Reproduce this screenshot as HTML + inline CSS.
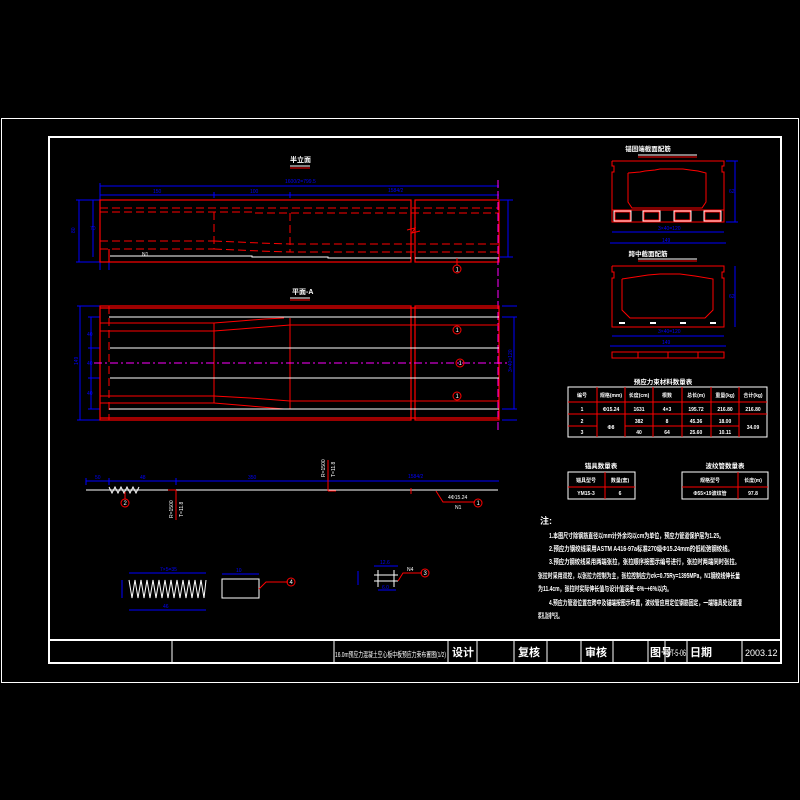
<!DOCTYPE html>
<html><head><meta charset="utf-8"><style>
html,body{margin:0;padding:0;background:#000;}
svg{display:block}
text{font-family:"Liberation Sans","Noto Sans CJK SC",sans-serif;}
</style></head><body>
<svg width="800" height="800" viewBox="0 0 800 800" xmlns="http://www.w3.org/2000/svg">
<rect width="800" height="800" fill="#000"/>
<!-- frames -->
<rect x="1.5" y="118.5" width="797" height="564" fill="none" stroke="#fff" stroke-width="1"/>
<rect x="49" y="137" width="732" height="526" fill="none" stroke="#fff" stroke-width="2"/>
<line x1="49" y1="640" x2="781" y2="640" stroke="#fff" stroke-width="2"/>
<g stroke="#fff" stroke-width="1">
<line x1="172" y1="640" x2="172" y2="663"/><line x1="334" y1="640" x2="334" y2="663"/>
<line x1="448" y1="640" x2="448" y2="663"/><line x1="477" y1="640" x2="477" y2="663"/>
<line x1="514" y1="640" x2="514" y2="663"/><line x1="547" y1="640" x2="547" y2="663"/>
<line x1="581" y1="640" x2="581" y2="663"/><line x1="613" y1="640" x2="613" y2="663"/>
<line x1="648" y1="640" x2="648" y2="663"/><line x1="665" y1="640" x2="665" y2="663"/>
<line x1="687" y1="640" x2="687" y2="663"/><line x1="742" y1="640" x2="742" y2="663"/>
</g>
<g fill="#fff" font-size="10">
<text x="335" y="657" font-size="7.5" textLength="111" lengthAdjust="spacingAndGlyphs">16.0m预应力混凝土空心板中板预应力束布置图(1/2)</text>
<text x="452" y="656" font-size="11" font-weight="bold">设计</text>
<text x="518" y="656" font-size="11" font-weight="bold">复核</text>
<text x="585" y="656" font-size="11" font-weight="bold">审核</text>
<text x="650" y="656" font-size="11" font-weight="bold">图号</text>
<text x="667" y="656" font-size="9" textLength="19" lengthAdjust="spacingAndGlyphs">ST-5-06</text>
<text x="690" y="656" font-size="11" font-weight="bold">日期</text>
<text x="745" y="656" font-size="9">2003.12</text>
</g>

<!-- Elevation -->
<text x="290" y="162" fill="#fff" font-size="7" font-weight="bold">半立面</text>
<line x1="290" y1="166" x2="310" y2="166" stroke="#fff"/><line x1="290" y1="168" x2="310" y2="168" stroke="red"/>
<g stroke="#00f" stroke-width="1" fill="none">
<line x1="100" y1="186" x2="499" y2="186"/><line x1="100" y1="195" x2="499" y2="195"/>
<line x1="100" y1="183" x2="100" y2="200"/><line x1="214" y1="192" x2="214" y2="198"/><line x1="290" y1="192" x2="290" y2="198"/>
<line x1="79" y1="200" x2="79" y2="262"/><line x1="93" y1="200" x2="93" y2="257"/>
<line x1="76" y1="200" x2="100" y2="200"/><line x1="76" y1="262" x2="100" y2="262"/>
<line x1="508" y1="200" x2="508" y2="257"/><line x1="500" y1="200" x2="513" y2="200"/><line x1="500" y1="257" x2="513" y2="257"/>
<line x1="100" y1="262" x2="100" y2="270"/><line x1="109" y1="262" x2="109" y2="270"/>
</g>
<g fill="#00f" font-size="5">
<text x="285" y="183">1600/2=799.5</text><text x="153" y="193">150</text><text x="250" y="193">100</text><text x="388" y="192">1584/2</text>
<text x="75" y="233" transform="rotate(-90 75 233)">80</text><text x="90" y="230">70</text>
</g>
<g stroke="red" stroke-width="1.2" fill="none">
<rect x="100" y="200" width="311" height="62"/><rect x="415" y="200" width="84" height="62"/>
<line x1="109" y1="249" x2="109" y2="262"/>
</g>
<g stroke="red" stroke-width="1" stroke-dasharray="8,4" fill="none">
<line x1="100" y1="208" x2="499" y2="208"/><line x1="100" y1="212" x2="255" y2="212"/><line x1="255" y1="213" x2="499" y2="213"/>
<line x1="100" y1="241" x2="214" y2="241"/><polyline points="214,241 260,243 290,244 499,244"/>
<line x1="100" y1="249" x2="214" y2="249"/><polyline points="214,249 260,251 290,252 499,252"/>
<line x1="214" y1="212" x2="214" y2="249"/><line x1="290" y1="213" x2="290" y2="252"/>
</g>
<polyline points="110,256 252,256 252,257 328,257 328,258 411,258" stroke="#fff" fill="none"/>
<line x1="415" y1="258" x2="499" y2="258" stroke="#fff"/>
<text x="142" y="256" fill="#fff" font-size="5">N1</text>
<path d="M407 230 L415 228 L412 233 L420 231" stroke="red" fill="none"/>
<line x1="498" y1="180" x2="498" y2="430" stroke="#f0f" stroke-dasharray="8,3"/>
<circle cx="457" cy="269" r="4" stroke="red" fill="none"/><text x="455.5" y="271.5" fill="#fff" font-size="6">1</text>
<line x1="457" y1="258" x2="457" y2="265" stroke="red"/>

<!-- Plan -->
<text x="292" y="294" fill="#fff" font-size="7" font-weight="bold">平面-A</text>
<line x1="290" y1="298" x2="310" y2="298" stroke="#fff"/><line x1="290" y1="300" x2="310" y2="300" stroke="red"/>
<g stroke="#00f" fill="none">
<line x1="80" y1="306" x2="80" y2="420"/><line x1="91" y1="317" x2="91" y2="409"/>
<line x1="77" y1="306" x2="100" y2="306"/><line x1="77" y1="420" x2="100" y2="420"/>
<line x1="88" y1="317" x2="100" y2="317"/><line x1="88" y1="348" x2="100" y2="348"/><line x1="88" y1="378" x2="100" y2="378"/><line x1="88" y1="409" x2="100" y2="409"/>
<line x1="514" y1="317" x2="514" y2="409"/><line x1="502" y1="306" x2="517" y2="306"/><line x1="502" y1="317" x2="517" y2="317"/><line x1="502" y1="409" x2="517" y2="409"/><line x1="502" y1="420" x2="517" y2="420"/>
</g>
<g fill="#00f" font-size="5">
<text x="78" y="365" transform="rotate(-90 78 365)">149</text><text x="87" y="336">40</text><text x="87" y="365">40</text><text x="87" y="395">40</text>
<text x="512" y="372" transform="rotate(-90 512 372)">3×40=120</text>
</g>
<g stroke="red" stroke-width="1.2" fill="none">
<rect x="100" y="306" width="311" height="114"/><rect x="415" y="306" width="84" height="114"/>
<line x1="100" y1="308" x2="499" y2="308"/><line x1="100" y1="418" x2="499" y2="418"/>
</g>
<g stroke="red" fill="none">
<line x1="100" y1="323" x2="214" y2="323"/><polyline points="214,323 240,321 265,319 284,318"/>
<line x1="100" y1="331" x2="214" y2="331"/><polyline points="214,331 240,329 265,327 290,325 499,325"/>
<line x1="100" y1="396" x2="214" y2="396"/><polyline points="214,396 250,398 290,401 499,401"/>
<line x1="100" y1="403" x2="214" y2="403"/><polyline points="214,403 250,406 284,409"/>
<line x1="214" y1="323" x2="214" y2="403"/><line x1="290" y1="318" x2="290" y2="409"/>
<line x1="109" y1="306" x2="109" y2="420" stroke-dasharray="8,4"/>
</g>
<g stroke="#fff">
<line x1="109" y1="317" x2="499" y2="317"/><line x1="110" y1="348" x2="499" y2="348"/>
<line x1="110" y1="378" x2="499" y2="378"/><line x1="109" y1="409" x2="499" y2="409"/>
</g>
<line x1="94" y1="363" x2="510" y2="363" stroke="#f0f" stroke-dasharray="8,3,2,3"/>
<g stroke="red" fill="none"><circle cx="457" cy="330" r="4"/><circle cx="460" cy="363" r="4"/><circle cx="457" cy="396" r="4"/></g>
<g fill="#fff" font-size="6"><text x="455.5" y="332">1</text><text x="458.5" y="365">1</text><text x="455.5" y="398">1</text></g>

<!-- Bar layout -->
<g stroke="#00f" fill="none"><line x1="86" y1="481" x2="499" y2="481"/>
<line x1="86" y1="478" x2="86" y2="485"/><line x1="109" y1="478" x2="109" y2="485"/><line x1="176" y1="478" x2="176" y2="485"/></g>
<g fill="#00f" font-size="5"><text x="95" y="479">50</text><text x="140" y="479">48</text><text x="248" y="479">350</text><text x="408" y="478">1584/2</text></g>
<line x1="86" y1="490" x2="498" y2="490" stroke="#fff"/>
<path d="M109 487 L112 493 L115 487 L118 493 L121 487 L124 493 L127 487 L130 493 L133 487 L136 493 L139 487" stroke="#fff" fill="none"/>
<line x1="125" y1="492" x2="125" y2="499" stroke="red"/><circle cx="125" cy="503" r="4" stroke="red" fill="none"/><text x="123.5" y="505" fill="#fff" font-size="6">2</text>
<line x1="176" y1="490" x2="176" y2="520" stroke="red"/><line x1="168" y1="490" x2="176" y2="490" stroke="red"/>
<line x1="328" y1="460" x2="328" y2="491" stroke="red"/><line x1="328" y1="491" x2="336" y2="491" stroke="red"/>
<g fill="#fff" font-size="5"><text x="173" y="518" transform="rotate(-90 173 518)">R=1500</text><text x="183" y="517" transform="rotate(-90 183 517)">T=11.8</text>
<text x="325" y="477" transform="rotate(-90 325 477)">R=1500</text><text x="335" y="477" transform="rotate(-90 335 477)">T=11.8</text>
<text x="448" y="499">4Φ15.24</text><text x="455" y="509">N1</text></g>
<polyline points="436,491 443,502 475,502" stroke="red" fill="none"/>
<circle cx="478" cy="503" r="4" stroke="red" fill="none"/><text x="476.5" y="505" fill="#fff" font-size="6">1</text>
<line x1="411" y1="488" x2="411" y2="494" stroke="red"/>

<!-- details -->
<path d="M129 580 L132 598 L135 580 L138 598 L141 580 L144 598 L147 580 L150 598 L153 580 L156 598 L159 580 L162 598 L165 580 L168 598 L171 580 L174 598 L177 580 L180 598 L183 580 L186 598 L189 580 L192 598 L195 580 L198 598 L201 580 L204 598 L206 580" stroke="#fff" fill="none"/>
<g stroke="#00f" fill="none"><line x1="129" y1="573" x2="206" y2="573"/><line x1="129" y1="610" x2="206" y2="610"/><line x1="122" y1="580" x2="122" y2="598"/><line x1="222" y1="574" x2="259" y2="574"/>
<line x1="358" y1="571" x2="358" y2="585"/><line x1="374" y1="566" x2="398" y2="566"/><line x1="378" y1="590" x2="396" y2="590"/></g>
<g fill="#00f" font-size="5"><text x="160" y="571">7×5=35</text><text x="163" y="608">46</text><text x="236" y="572">10</text><text x="380" y="564">12.6</text><text x="382" y="589">6.0</text></g>
<rect x="222" y="579" width="37" height="19" stroke="#fff" fill="none"/>
<polyline points="259,589 266,582 288,582" stroke="red" fill="none"/><circle cx="291" cy="582" r="4" stroke="red" fill="none"/><text x="289.5" y="584" fill="#fff" font-size="6">4</text>
<g stroke="#fff"><line x1="374" y1="575" x2="398" y2="575"/><line x1="374" y1="581" x2="398" y2="581"/><line x1="378" y1="570" x2="378" y2="587"/><line x1="394" y1="570" x2="394" y2="587"/></g>
<polyline points="398,581 403,573 422,573" stroke="red" fill="none"/><circle cx="425" cy="573" r="4" stroke="red" fill="none"/><text x="423.5" y="575" fill="#fff" font-size="6">3</text>
<text x="407" y="571" fill="#fff" font-size="5">N4</text>

<!-- Right sections -->
<text x="648" y="151" fill="#fff" font-size="6.5" font-weight="bold" text-anchor="middle">锚固端截面配筋</text>
<line x1="638" y1="155" x2="697" y2="155" stroke="#fff"/><line x1="638" y1="157" x2="697" y2="157" stroke="red"/>
<g stroke="red" fill="none" stroke-width="1">
<polyline points="612,161 724,161 724,166 722,166 722,172 724,172 724,222 612,222 612,172 614,172 614,166 612,166 612,161"/>
<polyline points="628,173 640,172 645,171 655,170 660,169 683,169 690,170 698,171 706,173 706,202 702,208 632,208 628,202 628,173"/>
<line x1="612" y1="210" x2="724" y2="210"/>
<rect x="615" y="212" width="15" height="8"/><rect x="644" y="212" width="15" height="8"/><rect x="675" y="212" width="15" height="8"/><rect x="705" y="212" width="15" height="8"/>
</g>
<g stroke="#fff" fill="none"><rect x="614" y="211" width="17" height="10"/><rect x="643" y="211" width="17" height="10"/><rect x="674" y="211" width="17" height="10"/><rect x="704" y="211" width="17" height="10"/></g>
<g stroke="#00f" fill="none"><line x1="612" y1="232" x2="724" y2="232"/><line x1="610" y1="243" x2="726" y2="243"/><line x1="735" y1="161" x2="735" y2="222"/><line x1="726" y1="161" x2="738" y2="161"/><line x1="726" y1="222" x2="738" y2="222"/>
<line x1="735" y1="266" x2="735" y2="327"/><line x1="612" y1="336" x2="724" y2="336"/><line x1="610" y1="346" x2="726" y2="346"/></g>
<g fill="#00f" font-size="5"><text x="658" y="230">3×40=120</text><text x="662" y="242">149</text><text x="658" y="333">3×40=120</text><text x="662" y="344">149</text><text x="729" y="193">62</text><text x="729" y="298">62</text></g>
<text x="648" y="256" fill="#fff" font-size="6.5" font-weight="bold" text-anchor="middle">跨中截面配筋</text>
<line x1="638" y1="259" x2="697" y2="259" stroke="#fff"/><line x1="638" y1="261" x2="697" y2="261" stroke="red"/>
<g stroke="red" fill="none">
<polyline points="612,266 724,266 724,272 722,272 722,278 724,278 724,327 612,327 612,278 614,278 614,272 612,272 612,266"/>
<polyline points="622,279 635,277 648,275 660,274 680,274 695,276 713,279 713,310 705,318 630,318 622,310 622,279"/>
<rect x="612" y="352" width="112" height="6"/><line x1="638" y1="352" x2="638" y2="358"/><line x1="668" y1="352" x2="668" y2="358"/><line x1="698" y1="352" x2="698" y2="358"/>
</g>
<g fill="#fff"><rect x="619" y="322" width="6" height="2"/><rect x="650" y="322" width="6" height="2"/><rect x="680" y="322" width="6" height="2"/><rect x="710" y="322" width="6" height="2"/></g>

<!-- main table -->
<text x="663" y="384" fill="#fff" font-size="6.5" font-weight="bold" text-anchor="middle">预应力束材料数量表</text>
<g stroke="#fff" fill="none"><rect x="568" y="387" width="199" height="50"/></g>
<g stroke="red"><line x1="568" y1="402" x2="767" y2="402"/><line x1="568" y1="414" x2="767" y2="414"/><line x1="568" y1="426" x2="597" y2="426"/><line x1="625" y1="426" x2="739" y2="426"/>
<line x1="597" y1="387" x2="597" y2="437"/><line x1="625" y1="387" x2="625" y2="437"/><line x1="653" y1="387" x2="653" y2="437"/><line x1="682" y1="387" x2="682" y2="437"/><line x1="711" y1="387" x2="711" y2="437"/><line x1="739" y1="387" x2="739" y2="437"/></g>
<g fill="#fff" font-size="5" text-anchor="middle" font-weight="bold">
<text x="582" y="397">编号</text><text x="611" y="397">规格(mm)</text><text x="639" y="397">长度(cm)</text><text x="667" y="397">根数</text><text x="696" y="397">总长(m)</text><text x="725" y="397">重量(kg)</text><text x="753" y="397">合计(kg)</text>
<text x="582" y="411">1</text><text x="611" y="411">Φ15.24</text><text x="639" y="411">1631</text><text x="667" y="411">4×3</text><text x="696" y="411">195.72</text><text x="725" y="411">216.80</text><text x="753" y="411">216.80</text>
<text x="582" y="423">2</text><text x="611" y="429">Φ8</text><text x="639" y="423">382</text><text x="667" y="423">8</text><text x="696" y="423">45.36</text><text x="725" y="423">18.00</text><text x="753" y="429">34.09</text>
<text x="582" y="434">3</text><text x="639" y="434">40</text><text x="667" y="434">64</text><text x="696" y="434">25.60</text><text x="725" y="434">10.11</text>
</g>
<!-- small tables -->
<text x="601" y="468" fill="#fff" font-size="6.5" font-weight="bold" text-anchor="middle">锚具数量表</text>
<rect x="568" y="472" width="67" height="27" stroke="#fff" fill="none"/><line x1="568" y1="487" x2="635" y2="487" stroke="red"/><line x1="605" y1="472" x2="605" y2="499" stroke="red"/>
<text x="725" y="468" fill="#fff" font-size="6.5" font-weight="bold" text-anchor="middle">波纹管数量表</text>
<rect x="682" y="472" width="86" height="27" stroke="#fff" fill="none"/><line x1="682" y1="487" x2="768" y2="487" stroke="red"/><line x1="738" y1="472" x2="738" y2="499" stroke="red"/>
<g fill="#fff" font-size="5" text-anchor="middle" font-weight="bold"><text x="586" y="482">锚具型号</text><text x="620" y="482">数量(套)</text><text x="586" y="495">YM15-3</text><text x="620" y="495">6</text>
<text x="710" y="482">规格型号</text><text x="753" y="482">长度(m)</text><text x="710" y="495">Φ55×19波纹管</text><text x="753" y="495">97.8</text></g>

<!-- notes -->
<g fill="#fff" font-size="7" font-weight="bold" lengthAdjust="spacingAndGlyphs">
<text x="540" y="524" font-size="9">注:</text>
<text x="549" y="538" textLength="175" lengthAdjust="spacingAndGlyphs">1.本图尺寸除钢筋直径以mm计外余均以cm为单位，预应力管道保护层为1.25。</text>
<text x="549" y="551" textLength="184" lengthAdjust="spacingAndGlyphs">2.预应力钢绞线采用ASTM A416-97a标准270级Φ15.24mm的低松弛钢绞线。</text>
<text x="549" y="564" textLength="191" lengthAdjust="spacingAndGlyphs">3.预应力钢绞线采用两端张拉，张拉顺序按图示编号进行，张拉时两端同时张拉。</text>
<text x="538" y="578" textLength="202" lengthAdjust="spacingAndGlyphs">张拉时采用双控，以张拉力控制为主，张拉控制应力σk=0.75Ry=1395MPa，N1钢绞线伸长量</text>
<text x="538" y="591" textLength="134" lengthAdjust="spacingAndGlyphs">为11.4cm，张拉时实际伸长值与设计值误差−6%~+6%以内。</text>
<text x="549" y="605" textLength="193" lengthAdjust="spacingAndGlyphs">4.预应力管道位置在跨中及锚端按图示布置，波纹管应用定位钢筋固定，一端锚具处设置灌</text>
<text x="538" y="618" textLength="24" lengthAdjust="spacingAndGlyphs">浆孔及排气孔。</text>
</g>
</svg>
</body></html>
